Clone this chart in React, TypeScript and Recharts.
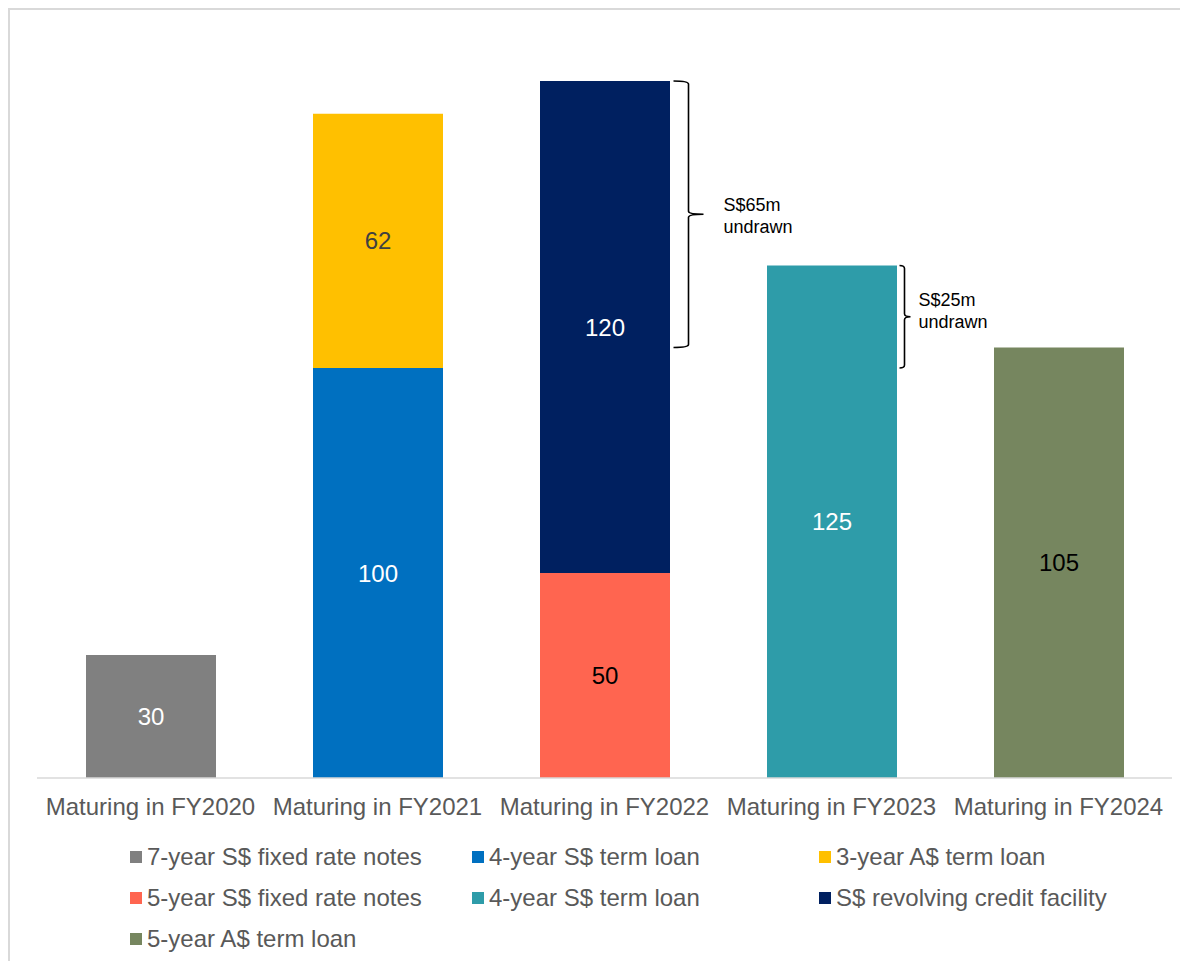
import React from "react";
import { BarChart, Bar, XAxis, YAxis, Legend, LabelList, ReferenceArea } from "recharts";

const categories = [
  "Maturing in FY2020",
  "Maturing in FY2021",
  "Maturing in FY2022",
  "Maturing in FY2023",
  "Maturing in FY2024",
];

const fixedNotes7y = [30, null, null, null, null];
const termLoan4yA = [null, 100, null, null, null];
const termLoan3yAUD = [null, 62, null, null, null];
const fixedNotes5y = [null, null, 50, null, null];
const termLoan4yB = [null, null, null, 125, null];
const revolvingFacility = [null, null, 120, null, null];
const termLoan5yAUD = [null, null, null, null, 105];

const seriesDefs = [
  { key: "s1", name: "7-year S$ fixed rate notes", values: fixedNotes7y, color: "#808080", label: "#FFFFFF" },
  { key: "s2", name: "4-year S$ term loan", values: termLoan4yA, color: "#0070C0", label: "#FFFFFF" },
  { key: "s3", name: "3-year A$ term loan", values: termLoan3yAUD, color: "#FFC000", label: "#404040" },
  { key: "s4", name: "5-year S$ fixed rate notes", values: fixedNotes5y, color: "#FF6550", label: "#000000" },
  { key: "s5", name: "4-year S$ term loan", values: termLoan4yB, color: "#2E9CA9", label: "#FFFFFF" },
  { key: "s6", name: "S$ revolving credit facility", values: revolvingFacility, color: "#002060", label: "#FFFFFF" },
  { key: "s7", name: "5-year A$ term loan", values: termLoan5yAUD, color: "#76865F", label: "#000000" },
];

const undrawnNotes = [
  { category: "Maturing in FY2022", from: 105, to: 170, lines: ["S$65m", "undrawn"] },
  { category: "Maturing in FY2023", from: 100, to: 125, lines: ["S$25m", "undrawn"] },
];

const data = categories.map((c, i) => {
  const row: any = { name: c };
  seriesDefs.forEach((s) => {
    row[s.key] = s.values[i];
  });
  return row;
});

const FONT = "'Liberation Sans', Arial, sans-serif";
const BAR_SIZE = 130;

const makeLabel = (fill: string) => (props: any) => {
  const { x, y, width, height, value } = props;
  if (value === null || value === undefined) return null;
  return (
    <text
      x={Number(x) + Number(width) / 2}
      y={Number(y) + Number(height) / 2}
      fill={fill}
      fontSize={24}
      fontFamily={FONT}
      textAnchor="middle"
      dominantBaseline="central"
    >
      {value}
    </text>
  );
};

const makeBracket = (
  lines: string[],
  gap: number,
  arm: number,
  tip: number,
  textGap: number,
  textDy: number
) => (props: any) => {
  const { x, y, width, height } = props;
  const barRight = x + width / 2 + BAR_SIZE / 2;
  const tx = barRight + gap;
  const vx = tx + arm;
  const px = vx + tip;
  const y1 = y;
  const y2 = y + height;
  const mid = (y1 + y2) / 2;
  const r = 3;
  const d = `M ${tx} ${y1} Q ${vx} ${y1} ${vx} ${y1 + r} L ${vx} ${mid - r} Q ${vx} ${mid} ${px} ${mid} Q ${vx} ${mid} ${vx} ${mid + r} L ${vx} ${y2 - r} Q ${vx} ${y2} ${tx} ${y2}`;
  return (
    <g>
      <path d={d} fill="none" stroke="#000" strokeWidth={1.6} />
      <text x={barRight + textGap} y={mid + textDy} fontSize={18} fontFamily={FONT} fill="#000">
        {lines.map((l, i) => (
          <tspan key={i} x={barRight + textGap} dy={i === 0 ? 0 : 22}>
            {l}
          </tspan>
        ))}
      </text>
    </g>
  );
};

const LegendContent = () => (
  <div
    style={{
      display: "grid",
      gridTemplateColumns: "342px 347px 300px",
      paddingLeft: 120,
      fontFamily: FONT,
      fontSize: 24,
      color: "#595959",
    }}
  >
    {seriesDefs.map((s) => (
      <div key={s.key} style={{ height: 41, display: "flex", alignItems: "center" }}>
        <span style={{ width: 12, height: 12, background: s.color, display: "inline-block", marginRight: 5 }} />
        <span>{s.name}</span>
      </div>
    ))}
  </div>
);

export default function App() {
  return (
    <div
      style={{
        width: 1178,
        height: 951,
        borderTop: "2px solid #d9d9d9",
        borderLeft: "2px solid #d9d9d9",
        background: "#fff",
      }}
    >
      <BarChart
        width={1170}
        height={951}
        data={data}
        margin={{ top: 30, right: 8, left: 27, bottom: 30 }}
        barSize={BAR_SIZE}
      >
        <XAxis
          dataKey="name"
          axisLine={{ stroke: "#d9d9d9", strokeWidth: 1.5 }}
          tickLine={false}
          tickMargin={14}
          interval={0}
          tick={{ fill: "#595959", fontSize: 24, fontFamily: FONT }}
        />
        <YAxis hide domain={[0, 180]} />
        <Legend
          verticalAlign="bottom"
          content={<LegendContent />}
          wrapperStyle={{ top: 826, left: 0, bottom: "auto", width: 1170 }}
        />
        {seriesDefs.map((s) => (
          <Bar key={s.key} dataKey={s.key} name={s.name} stackId="a" fill={s.color} isAnimationActive={false}>
            <LabelList dataKey={s.key} content={makeLabel(s.label)} />
          </Bar>
        ))}
        <ReferenceArea
          x1={undrawnNotes[0].category}
          x2={undrawnNotes[0].category}
          y1={undrawnNotes[0].from}
          y2={undrawnNotes[0].to}
          ifOverflow="visible"
          shape={makeBracket(undrawnNotes[0].lines, 4, 15, 15, 54, -3)}
        />
        <ReferenceArea
          x1={undrawnNotes[1].category}
          x2={undrawnNotes[1].category}
          y1={undrawnNotes[1].from}
          y2={undrawnNotes[1].to}
          ifOverflow="visible"
          shape={makeBracket(undrawnNotes[1].lines, 3, 5, 6, 22, -11)}
        />
      </BarChart>
    </div>
  );
}
